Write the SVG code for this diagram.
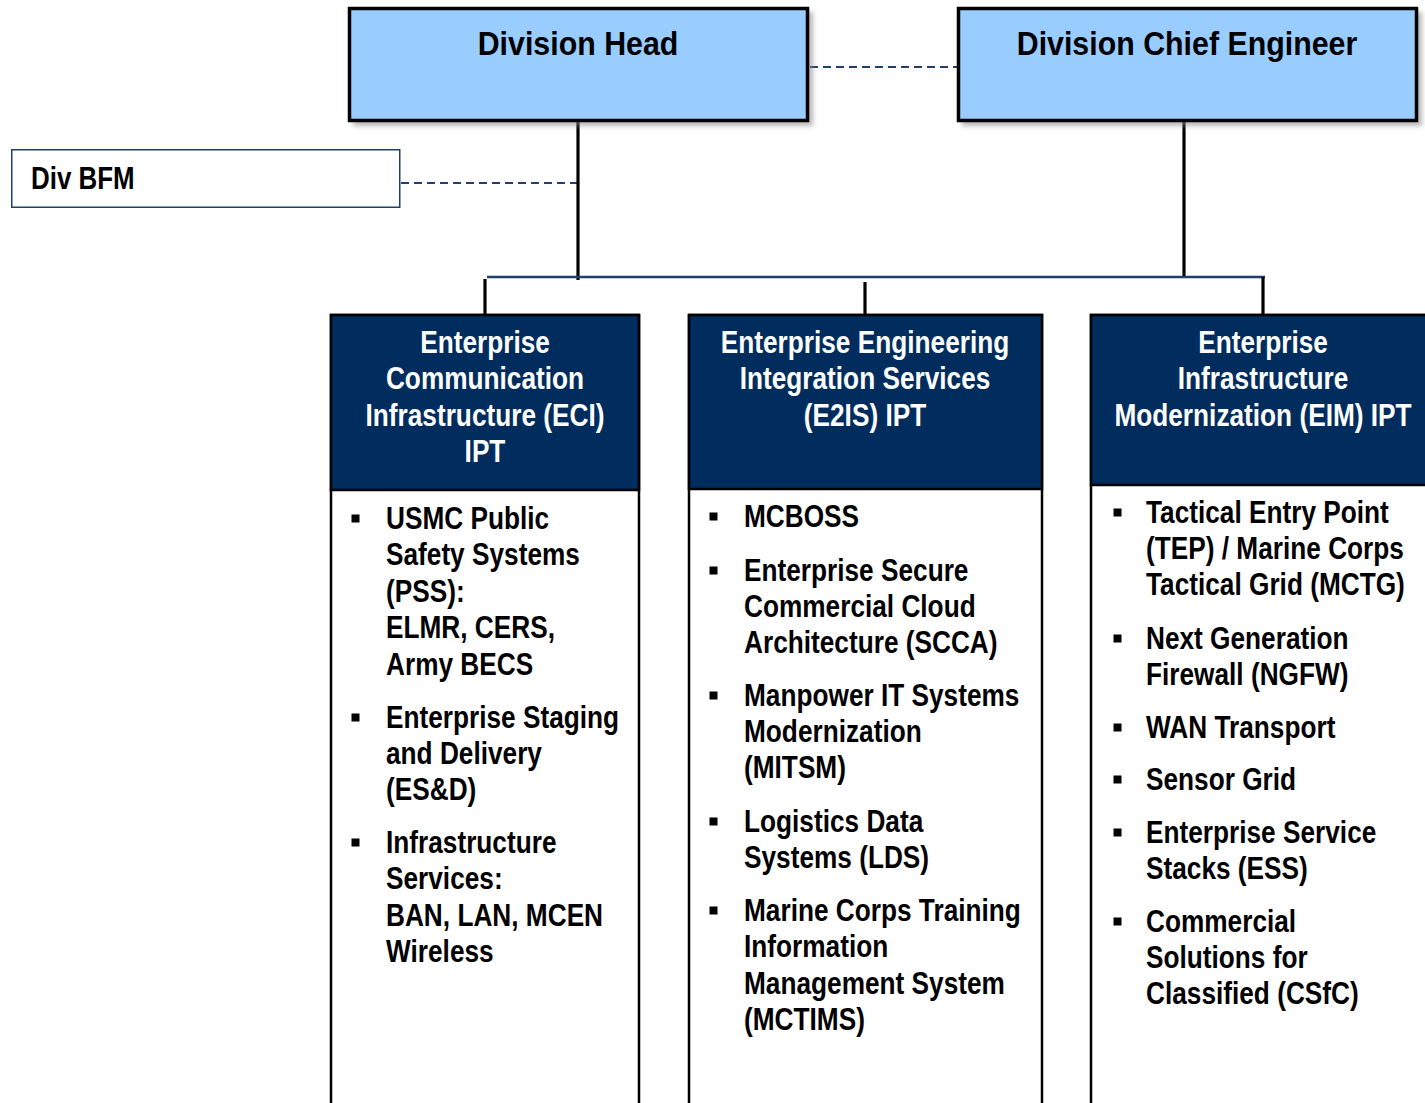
<svg xmlns="http://www.w3.org/2000/svg" width="1425" height="1103" viewBox="0 0 1425 1103">
<style>
.t{font-family:"Liberation Sans",Arial,sans-serif;font-weight:bold;}
.title{font-size:33px;fill:#000;text-anchor:middle;}
.hd{font-size:30.5px;fill:#fff;text-anchor:middle;}
.body{font-size:30.5px;fill:#000;}
.top{fill:#99CCFF;stroke:#000;stroke-width:3.5;}
.hdr{fill:#002D5E;stroke:#000;stroke-width:2.5;}
.col{fill:#fff;stroke:#000;stroke-width:2.5;}
.dash{stroke:#1F3F6F;stroke-width:2;stroke-dasharray:8 5;fill:none;}
.solid{stroke:#000;stroke-width:3.2;fill:none;}
.blue{stroke:#1F3F6F;stroke-width:2.5;fill:none;}
.bul{fill:#000;}
</style>
<defs>
<filter id="sh" x="-10%" y="-10%" width="130%" height="140%">
<feGaussianBlur stdDeviation="2.5"/>
</filter>
</defs>
<rect width="1425" height="1103" fill="#fff"/>

<g id="connectors">
<line class="dash" x1="810" y1="67" x2="957" y2="67"/>
<line class="dash" x1="401" y1="183" x2="578" y2="183"/>
<line class="solid" x1="578" y1="122" x2="578" y2="280"/>
<line class="solid" x1="1184" y1="122" x2="1184" y2="277"/>
<line class="blue" x1="487" y1="277" x2="1265" y2="277"/>
<line class="solid" x1="485" y1="279" x2="485" y2="315"/>
<line class="solid" x1="865" y1="282" x2="865" y2="315"/>
<line class="solid" x1="1263" y1="277" x2="1263" y2="315"/>
</g>

<g id="division-head">
<rect x="353" y="12" width="460" height="114" fill="#888" opacity="0.6" filter="url(#sh)"/>
<rect class="top" x="349.5" y="8.5" width="458" height="112"/>
<text class="t title" transform="translate(578,55) scale(0.92,1)">Division Head</text>
</g>

<g id="division-chief-engineer">
<rect x="962" y="12" width="460" height="114" fill="#888" opacity="0.6" filter="url(#sh)"/>
<rect class="top" x="958.5" y="8.5" width="458" height="112"/>
<text class="t title" transform="translate(1187,55) scale(0.92,1)">Division Chief Engineer</text>
</g>

<g id="div-bfm">
<rect x="11.75" y="149.75" width="388" height="57.5" fill="#fff" stroke="#1F3F6F" stroke-width="1.5"/>
<text class="t body" transform="translate(31,189) scale(0.85,1)">Div BFM</text>
</g>

<g id="eci">
<rect class="col" x="331" y="315" width="308" height="800"/>
<rect class="hdr" x="331" y="315" width="308" height="175"/>
<g class="t hd">
<text transform="translate(485,353) scale(0.86,1)">Enterprise</text>
<text transform="translate(485,389) scale(0.86,1)">Communication</text>
<text transform="translate(485,426) scale(0.86,1)">Infrastructure (ECI)</text>
<text transform="translate(485,462) scale(0.86,1)">IPT</text>
</g>
<rect class="bul" x="351.5" y="514.5" width="8" height="8"/>
<rect class="bul" x="351.5" y="713.5" width="8" height="8"/>
<rect class="bul" x="351.5" y="838.5" width="8" height="8"/>
<g class="t body" transform="translate(386,0) scale(0.86,1)">
<text y="529">USMC Public</text>
<text y="565.5">Safety Systems</text>
<text y="602">(PSS):</text>
<text y="638.5">ELMR, CERS,</text>
<text y="675">Army BECS</text>
<text y="728">Enterprise Staging</text>
<text y="764">and Delivery</text>
<text y="800">(ES&amp;D)</text>
<text y="853">Infrastructure</text>
<text y="889">Services:</text>
<text y="926">BAN, LAN, MCEN</text>
<text y="962">Wireless</text>
</g>
</g>

<g id="e2is">
<rect class="col" x="689" y="315" width="353" height="800"/>
<rect class="hdr" x="689" y="315" width="353" height="174"/>
<g class="t hd">
<text transform="translate(865,353) scale(0.86,1)">Enterprise Engineering</text>
<text transform="translate(865,389) scale(0.86,1)">Integration Services</text>
<text transform="translate(865,426) scale(0.86,1)">(E2IS) IPT</text>
</g>
<rect class="bul" x="709.5" y="512.5" width="8" height="8"/>
<rect class="bul" x="709.5" y="566.5" width="8" height="8"/>
<rect class="bul" x="709.5" y="691.5" width="8" height="8"/>
<rect class="bul" x="709.5" y="817.5" width="8" height="8"/>
<rect class="bul" x="709.5" y="906.5" width="8" height="8"/>
<g class="t body" transform="translate(744,0) scale(0.86,1)">
<text y="527">MCBOSS</text>
<text y="581">Enterprise Secure</text>
<text y="617">Commercial Cloud</text>
<text y="653">Architecture (SCCA)</text>
<text y="706">Manpower IT Systems</text>
<text y="742">Modernization</text>
<text y="778">(MITSM)</text>
<text y="832">Logistics Data</text>
<text y="868">Systems (LDS)</text>
<text y="921">Marine Corps Training</text>
<text y="957">Information</text>
<text y="994">Management System</text>
<text y="1030">(MCTIMS)</text>
</g>
</g>

<g id="eim">
<rect class="col" x="1091" y="315" width="360" height="800"/>
<rect class="hdr" x="1091" y="315" width="360" height="170"/>
<g class="t hd">
<text transform="translate(1263,353) scale(0.86,1)">Enterprise</text>
<text transform="translate(1263,389) scale(0.86,1)">Infrastructure</text>
<text transform="translate(1263,426) scale(0.86,1)">Modernization (EIM) IPT</text>
</g>
<rect class="bul" x="1113.5" y="508.5" width="8" height="8"/>
<rect class="bul" x="1113.5" y="634.5" width="8" height="8"/>
<rect class="bul" x="1113.5" y="723.5" width="8" height="8"/>
<rect class="bul" x="1113.5" y="775.5" width="8" height="8"/>
<rect class="bul" x="1113.5" y="828.5" width="8" height="8"/>
<rect class="bul" x="1113.5" y="917.5" width="8" height="8"/>
<g class="t body" transform="translate(1146,0) scale(0.86,1)">
<text y="523">Tactical Entry Point</text>
<text y="559">(TEP) / Marine Corps</text>
<text y="595">Tactical Grid (MCTG)</text>
<text y="649">Next Generation</text>
<text y="685">Firewall (NGFW)</text>
<text y="738">WAN Transport</text>
<text y="790">Sensor Grid</text>
<text y="843">Enterprise Service</text>
<text y="879">Stacks (ESS)</text>
<text y="932">Commercial</text>
<text y="968">Solutions for</text>
<text y="1004">Classified (CSfC)</text>
</g>
</g>
</svg>
